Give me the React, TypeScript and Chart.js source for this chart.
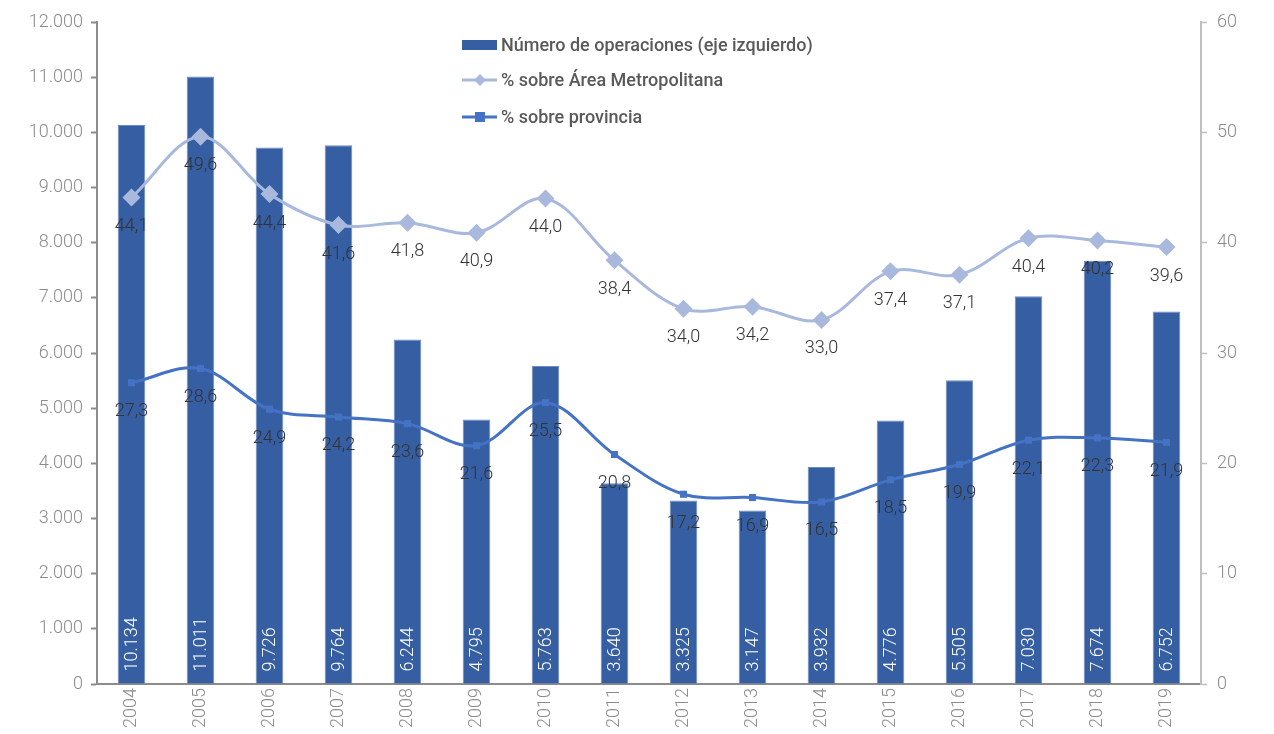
import React, { useEffect, useRef } from "react";
import { Chart, registerables } from "chart.js";

Chart.register(...registerables);

const years = ["2004","2005","2006","2007","2008","2009","2010","2011","2012","2013","2014","2015","2016","2017","2018","2019"];
const operaciones = [10134, 11011, 9726, 9764, 6244, 4795, 5763, 3640, 3325, 3147, 3932, 4776, 5505, 7030, 7674, 6752];
const areaMetro = [44.1, 49.6, 44.4, 41.6, 41.8, 40.9, 44.0, 38.4, 34.0, 34.2, 33.0, 37.4, 37.1, 40.4, 40.2, 39.6];
const provincia = [27.3, 28.6, 24.9, 24.2, 23.6, 21.6, 25.5, 20.8, 17.2, 16.9, 16.5, 18.5, 19.9, 22.1, 22.3, 21.9];
const leftTicks = [0, 1000, 2000, 3000, 4000, 5000, 6000, 7000, 8000, 9000, 10000, 11000, 12000];
const rightTicks = [0, 10, 20, 30, 40, 50, 60];

const BAR = "#365EA2";
const LIGHT = "#A9B9DE";
const DARK = "#4472C4";
const FONT = "Roboto";

const fmtThousands = (v: number) => v.toString().replace(/\B(?=(\d{3})+(?!\d))/g, ".");
const fmtDec = (v: number) => v.toFixed(1).replace(".", ",");

const labelsPlugin = {
  id: "customLabels",
  afterDatasetsDraw(chart: any) {
    const ctx = chart.ctx;
    ctx.save();
    // bar labels
    const barMeta = chart.getDatasetMeta(0);
    ctx.font = `300 18px ${FONT}`;
    ctx.fillStyle = "#ffffff";
    barMeta.data.forEach((el: any, i: number) => {
      ctx.save();
      ctx.translate(el.x, el.base - 12);
      ctx.rotate(-Math.PI / 2);
      ctx.textAlign = "left";
      ctx.textBaseline = "middle";
      ctx.fillText(fmtThousands(operaciones[i]), 0, 1);
      ctx.restore();
    });
    // line labels
    ctx.font = `300 18px ${FONT}`;
    ctx.fillStyle = "#333333";
    ctx.textAlign = "center";
    ctx.textBaseline = "middle";
    [1, 2].forEach((di) => {
      const meta = chart.getDatasetMeta(di);
      const arr = di === 1 ? areaMetro : provincia;
      meta.data.forEach((el: any, i: number) => {
        ctx.fillText(fmtDec(arr[i]), el.x, el.y + 29);
      });
    });
    // legend
    const lx = 462;
    const items = [
      { y: 45, type: "bar", text: "Número de operaciones (eje izquierdo)" },
      { y: 80, type: "light", text: "% sobre Área Metropolitana" },
      { y: 117, type: "dark", text: "% sobre provincia" },
    ];
    items.forEach((it) => {
      if (it.type === "bar") {
        ctx.fillStyle = BAR;
        ctx.fillRect(lx, it.y - 5, 35, 10);
      } else {
        ctx.strokeStyle = it.type === "light" ? LIGHT : DARK;
        ctx.lineWidth = 3;
        ctx.beginPath();
        ctx.moveTo(lx, it.y);
        ctx.lineTo(lx + 35, it.y);
        ctx.stroke();
        ctx.fillStyle = it.type === "light" ? LIGHT : DARK;
        const cx = lx + 18;
        if (it.type === "light") {
          ctx.beginPath();
          ctx.moveTo(cx, it.y - 6);
          ctx.lineTo(cx + 6, it.y);
          ctx.lineTo(cx, it.y + 6);
          ctx.lineTo(cx - 6, it.y);
          ctx.closePath();
          ctx.fill();
        } else {
          ctx.fillRect(cx - 5, it.y - 5, 10, 10);
        }
      }
      ctx.fillStyle = "#595959";
      ctx.font = `500 18px ${FONT}`;
      ctx.textAlign = "left";
      ctx.textBaseline = "middle";
      ctx.fillText(it.text, lx + 39, it.y + 1);
    });
    ctx.restore();
  },
};

export default function App() {
  const ref = useRef<HTMLCanvasElement | null>(null);
  useEffect(() => {
    if (!ref.current) return;
    const chart = new Chart(ref.current, {
      type: "bar",
      data: {
        labels: years,
        datasets: [
          {
            type: "bar",
            label: "Número de operaciones (eje izquierdo)",
            data: operaciones,
            backgroundColor: BAR,
            borderColor: "#6C8AC4",
            borderWidth: 1,
            barPercentage: 0.4,
            categoryPercentage: 1,
            yAxisID: "y",
            order: 3,
          },
          {
            type: "line",
            label: "% sobre Área Metropolitana",
            data: areaMetro,
            borderColor: LIGHT,
            backgroundColor: LIGHT,
            borderWidth: 3,
            pointStyle: "rectRot",
            pointRadius: 9,
            pointBorderWidth: 0,
            tension: 0.35,
            yAxisID: "y1",
            order: 1,
          },
          {
            type: "line",
            label: "% sobre provincia",
            data: provincia,
            borderColor: DARK,
            backgroundColor: DARK,
            borderWidth: 3,
            pointStyle: "rect",
            pointRadius: 5,
            pointBorderWidth: 0,
            tension: 0.35,
            yAxisID: "y1",
            order: 2,
          },
        ],
      },
      options: {
        animation: false,
        responsive: false,
        maintainAspectRatio: false,
        layout: { padding: { top: 22, left: 0, right: 0, bottom: 0 } },
        plugins: { legend: { display: false }, tooltip: { enabled: false } },
        scales: {
          x: {
            grid: { display: false, drawTicks: false },
            border: { color: "#8c8c8c", width: 2 },
            ticks: {
              color: "#8c8c8c",
              font: { family: FONT, size: 18, weight: "300" },
              maxRotation: 90,
              minRotation: 90,
              padding: 4,
            },
            afterFit: (s: any) => { s.height = 50; },
          },
          y: {
            position: "left",
            min: 0,
            max: 12000,
            afterBuildTicks: (s: any) => { s.ticks = leftTicks.map((v) => ({ value: v })); },
            grid: { drawOnChartArea: false, tickLength: 6, color: "#8c8c8c", tickWidth: 2 },
            border: { color: "#8c8c8c", width: 2 },
            ticks: {
              color: "#8c8c8c",
              font: { family: FONT, size: 18, weight: "300" },
              padding: 8,
              callback: (v: any) => fmtThousands(Number(v)),
            },
            afterFit: (s: any) => { s.width = 97; },
          },
          y1: {
            position: "right",
            min: 0,
            max: 60,
            afterBuildTicks: (s: any) => { s.ticks = rightTicks.map((v) => ({ value: v })); },
            grid: { drawOnChartArea: false, tickLength: 6, color: "#bfbfbf", tickWidth: 1.5 },
            border: { color: "#bfbfbf", width: 2 },
            ticks: {
              color: "#8c8c8c",
              font: { family: FONT, size: 18, weight: "300" },
              padding: 10,
            },
            afterFit: (s: any) => { s.width = 73; },
          },
        },
      },
      plugins: [labelsPlugin],
    });
    return () => chart.destroy();
  }, []);
  return (
    <div style={{ position: "absolute", left: 0, top: 0, width: 1274, height: 734, background: "#fff" }}>
      <canvas ref={ref} width={1274} height={734} style={{ width: 1274, height: 734 }} />
    </div>
  );
}
